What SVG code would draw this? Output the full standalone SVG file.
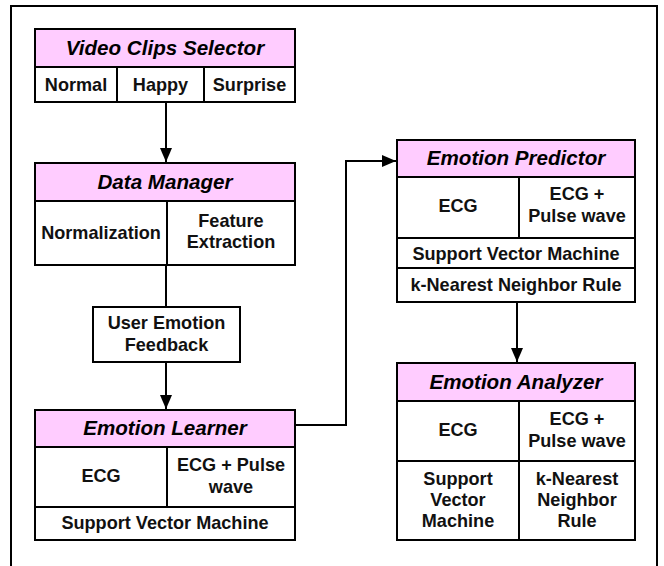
<svg xmlns="http://www.w3.org/2000/svg" width="664" height="566" viewBox="0 0 664 566">
  <style>
    .box { fill: #ffffff; stroke: #000; stroke-width: 2; }
    .head { fill: #ffccff; stroke: #000; stroke-width: 2; }
    .div { stroke: #000; stroke-width: 2; fill: none; }
    .ht { font-family: "Liberation Sans", Arial, sans-serif; font-size: 20.6px; font-weight: bold; font-style: italic; text-anchor: middle; fill: #000; }
    .ct { font-family: "Liberation Sans", Arial, sans-serif; font-size: 18.1px; font-weight: bold; text-anchor: middle; fill: #111; }
    .conn { stroke: #000; stroke-width: 2; fill: none; }
  </style>
  <defs>
    <marker id="arrow" markerUnits="userSpaceOnUse" markerWidth="14" markerHeight="12" refX="14" refY="6" orient="auto">
      <path d="M0,0 L14,6 L0,12 Z" fill="#000"/>
    </marker>
  </defs>

  <rect width="664" height="566" fill="#fff"/>
  <!-- outer frame -->
  <path d="M11,566 V6 H657 V566" class="conn"/>

  <!-- connectors -->
  <g id="connectors">
    <line x1="166" y1="102" x2="166" y2="162" class="conn" marker-end="url(#arrow)"/>
    <line x1="166" y1="265" x2="166" y2="307" class="conn"/>
    <line x1="166" y1="362" x2="166" y2="409" class="conn" marker-end="url(#arrow)"/>
    <path d="M295,425 H346 V161 H396" class="conn" marker-end="url(#arrow)"/>
    <line x1="517" y1="302" x2="517" y2="362" class="conn" marker-end="url(#arrow)"/>
  </g>

  <!-- Video Clips Selector -->
  <g id="video-clips-selector">
    <rect x="35" y="67" width="260" height="35" class="box"/>
    <rect x="35" y="29" width="260" height="38" class="head"/>
    <line x1="117" y1="67" x2="117" y2="102" class="div"/>
    <line x1="204" y1="67" x2="204" y2="102" class="div"/>
    <text x="165" y="55" class="ht">Video Clips Selector</text>
    <text x="76" y="91" class="ct">Normal</text>
    <text x="160.5" y="91" class="ct">Happy</text>
    <text x="249.5" y="91" class="ct">Surprise</text>
  </g>

  <!-- Data Manager -->
  <g id="data-manager">
    <rect x="35" y="201" width="260" height="64" class="box"/>
    <rect x="35" y="163" width="260" height="38" class="head"/>
    <line x1="167" y1="201" x2="167" y2="265" class="div"/>
    <text x="165" y="189" class="ht">Data Manager</text>
    <text x="101" y="239" class="ct">Normalization</text>
    <text x="231" y="227" class="ct">Feature</text>
    <text x="231" y="248" class="ct">Extraction</text>
  </g>

  <!-- User Emotion Feedback -->
  <g id="user-emotion-feedback">
    <rect x="93" y="307" width="147" height="55" class="box"/>
    <text x="166.5" y="329" class="ct">User Emotion</text>
    <text x="166.5" y="351" class="ct">Feedback</text>
  </g>

  <!-- Emotion Learner -->
  <g id="emotion-learner">
    <rect x="35" y="447" width="260" height="93" class="box"/>
    <rect x="35" y="410" width="260" height="37" class="head"/>
    <line x1="167" y1="447" x2="167" y2="507" class="div"/>
    <line x1="35" y1="507" x2="295" y2="507" class="div"/>
    <text x="165" y="435" class="ht">Emotion Learner</text>
    <text x="101" y="482" class="ct">ECG</text>
    <text x="231" y="471" class="ct">ECG + Pulse</text>
    <text x="231" y="493" class="ct">wave</text>
    <text x="165" y="529" class="ct">Support Vector Machine</text>
  </g>

  <!-- Emotion Predictor -->
  <g id="emotion-predictor">
    <rect x="397" y="177" width="238" height="125" class="box"/>
    <rect x="397" y="140" width="238" height="37" class="head"/>
    <line x1="519" y1="177" x2="519" y2="238" class="div"/>
    <line x1="397" y1="238" x2="635" y2="238" class="div"/>
    <line x1="397" y1="268" x2="635" y2="268" class="div"/>
    <text x="516" y="165" class="ht">Emotion Predictor</text>
    <text x="458" y="212" class="ct">ECG</text>
    <text x="577" y="200" class="ct">ECG +</text>
    <text x="577" y="222" class="ct">Pulse wave</text>
    <text x="516" y="260" class="ct">Support Vector Machine</text>
    <text x="516" y="291" class="ct">k-Nearest Neighbor Rule</text>
  </g>

  <!-- Emotion Analyzer -->
  <g id="emotion-analyzer">
    <rect x="397" y="401" width="238" height="139" class="box"/>
    <rect x="397" y="363" width="238" height="38" class="head"/>
    <line x1="519" y1="401" x2="519" y2="540" class="div"/>
    <line x1="397" y1="461" x2="635" y2="461" class="div"/>
    <text x="516" y="389" class="ht">Emotion Analyzer</text>
    <text x="458" y="436" class="ct">ECG</text>
    <text x="577" y="425" class="ct">ECG +</text>
    <text x="577" y="447" class="ct">Pulse wave</text>
    <text x="458" y="485" class="ct">Support</text>
    <text x="458" y="506" class="ct">Vector</text>
    <text x="458" y="527" class="ct">Machine</text>
    <text x="577" y="485" class="ct">k-Nearest</text>
    <text x="577" y="506" class="ct">Neighbor</text>
    <text x="577" y="527" class="ct">Rule</text>
  </g>
</svg>
